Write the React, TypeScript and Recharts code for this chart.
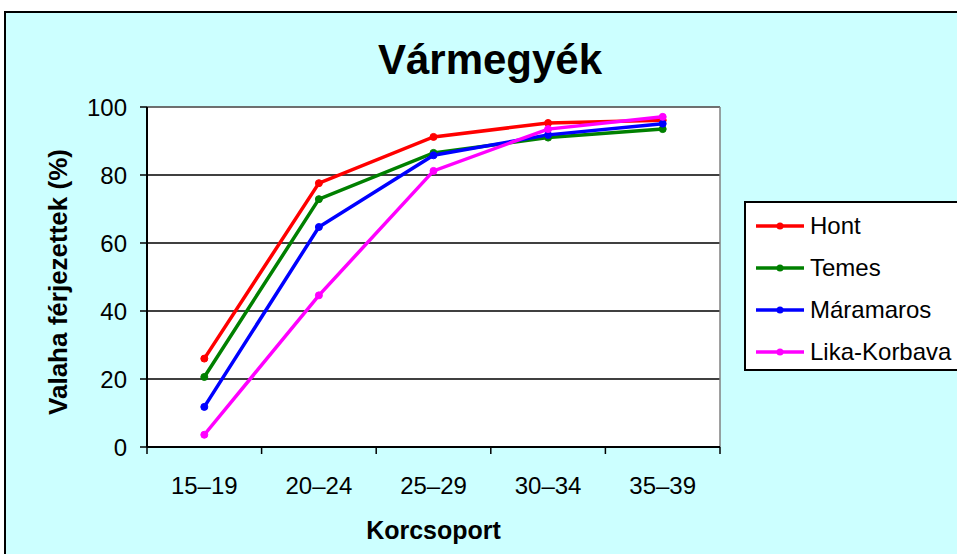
import React from 'react';
import { LineChart, Line, XAxis, YAxis, CartesianGrid, ReferenceLine, Legend } from 'recharts';

const categories = ['15–19', '20–24', '25–29', '30–34', '35–39'];
const hont = [26.0, 77.6, 91.2, 95.3, 96.1];
const temes = [20.6, 72.9, 86.5, 91.0, 93.5];
const maramaros = [11.8, 64.7, 85.8, 91.8, 95.1];
const lika = [3.6, 44.6, 81.2, 93.5, 97.1];
const yTicks = [0, 20, 40, 60, 80, 100];

const seriesDefs = [
  { key: 'Hont', values: hont, color: '#FF0000' },
  { key: 'Temes', values: temes, color: '#008000' },
  { key: 'Máramaros', values: maramaros, color: '#0000FF' },
  { key: 'Lika-Korbava', values: lika, color: '#FF00FF' },
];

const data = categories.map((c, i) => {
  const row: any = { idx: i + 0.5, age: c };
  seriesDefs.forEach((s) => { row[s.key] = s.values[i]; });
  return row;
});

const edgeTicks = categories.map((_, i) => i).concat([categories.length]);
const centerTicks = categories.map((_, i) => i + 0.5);
const xTicks = [...edgeTicks, ...centerTicks].sort((a, b) => a - b);

const FONT = '"Liberation Sans", Arial, sans-serif';

function XTick(props: any) {
  const { x, y, payload } = props;
  const v = payload.value;
  if (Number.isInteger(v)) {
    return <line x1={x} x2={x} y1={y - 7} y2={y} stroke="#000" strokeWidth={1.5} />;
  }
  return (
    <text x={x} y={y + 40} textAnchor="middle" fontSize={24} fill="#000" fontFamily={FONT}>
      {categories[Math.floor(v)]}
    </text>
  );
}

function YTitle(props: any) {
  const vb = props.viewBox || { x: 0, y: 0, width: 0, height: 0 };
  const cx = vb.x + 58;
  const cy = vb.y + vb.height / 2 + 5;
  return (
    <text x={cx} y={cy} transform={`rotate(-90, ${cx}, ${cy})`} textAnchor="middle" dominantBaseline="central"
      fontSize={26} fontWeight="bold" fill="#000" fontFamily={FONT}>
      Valaha férjezettek (%)
    </text>
  );
}

function XTitle(props: any) {
  const vb = props.viewBox || { x: 0, y: 0, width: 0, height: 0 };
  return (
    <text x={vb.x + vb.width / 2} y={vb.y + 92} textAnchor="middle" fontSize={25} fontWeight="bold" fill="#000" fontFamily={FONT}>
      Korcsoport
    </text>
  );
}

function LegendBox(props: any) {
  const payload = [...(props.payload || [])];
  const order = seriesDefs.map((s) => s.key);
  payload.sort((a: any, b: any) => order.indexOf(a.value) - order.indexOf(b.value));
  return (
    <div style={{ border: '2px solid #000', background: '#fff', width: 270, minWidth: 270, height: 170, boxSizing: 'border-box', paddingTop: 2, fontFamily: FONT }}>
      {payload.map((p: any) => (
        <div key={p.value} style={{ height: 42, display: 'flex', alignItems: 'center' }}>
          <svg width={64} height={42} style={{ display: 'block', flex: 'none' }}>
            <line x1={10} x2={58} y1={21} y2={21} stroke={p.color} strokeWidth={3.5} />
            <circle cx={34} cy={21} r={3.5} fill={p.color} />
          </svg>
          <span style={{ fontSize: 24, color: '#000', whiteSpace: 'nowrap', lineHeight: '42px' }}>{p.value}</span>
        </div>
      ))}
    </div>
  );
}

export default function App() {
  return (
    <div style={{ position: 'absolute', left: 0, top: 0, width: 957, height: 554, overflow: 'hidden', fontFamily: FONT }}>
      <div style={{ position: 'absolute', left: 4, top: 11, width: 1000, height: 600, border: '2px solid #000', background: '#CCFFFF' }} />
      <div style={{ position: 'absolute', left: 290, top: 39, width: 400, textAlign: 'center', fontSize: 42, lineHeight: '42px', fontWeight: 'bold', color: '#000' }}>
        Vármegyék
      </div>
      <div style={{ position: 'absolute', left: 0, top: 0 }}>
        <LineChart width={957} height={554} data={data} margin={{ top: 107, right: 237, left: 0, bottom: 0 }}>
          <CartesianGrid vertical={false} stroke="#000" strokeWidth={1.5} fill="#fff" fillOpacity={1} />
          <XAxis dataKey="idx" type="number" domain={[0, categories.length]} ticks={xTicks} interval={0}
            height={107} tickSize={7} tickMargin={0} tickLine={false} tick={<XTick />}
            axisLine={{ stroke: '#000', strokeWidth: 2 }} label={<XTitle />} allowDataOverflow />
          <YAxis type="number" domain={[0, 100]} ticks={yTicks} width={147} tickSize={7} tickMargin={13}
            tick={{ fontSize: 24, fill: '#000', fontFamily: FONT }} tickLine={{ stroke: '#000', strokeWidth: 1.5 }}
            axisLine={{ stroke: '#000', strokeWidth: 2 }} label={<YTitle />} />
          <ReferenceLine y={100} stroke="#808080" strokeWidth={1.5} />
          <ReferenceLine x={categories.length} stroke="#808080" strokeWidth={1.5} />
          {seriesDefs.map((s) => (
            <Line key={s.key} type="linear" dataKey={s.key} name={s.key} stroke={s.color} strokeWidth={3.5}
              dot={{ r: 3.5, fill: s.color, stroke: s.color, strokeWidth: 1 }} activeDot={false} isAnimationActive={false} />
          ))}
          <Legend layout="vertical" align="center" verticalAlign="middle" content={<LegendBox />}
            wrapperStyle={{ left: 744, top: 201, width: 270, height: 170, overflow: 'visible' }} />
        </LineChart>
      </div>
    </div>
  );
}
